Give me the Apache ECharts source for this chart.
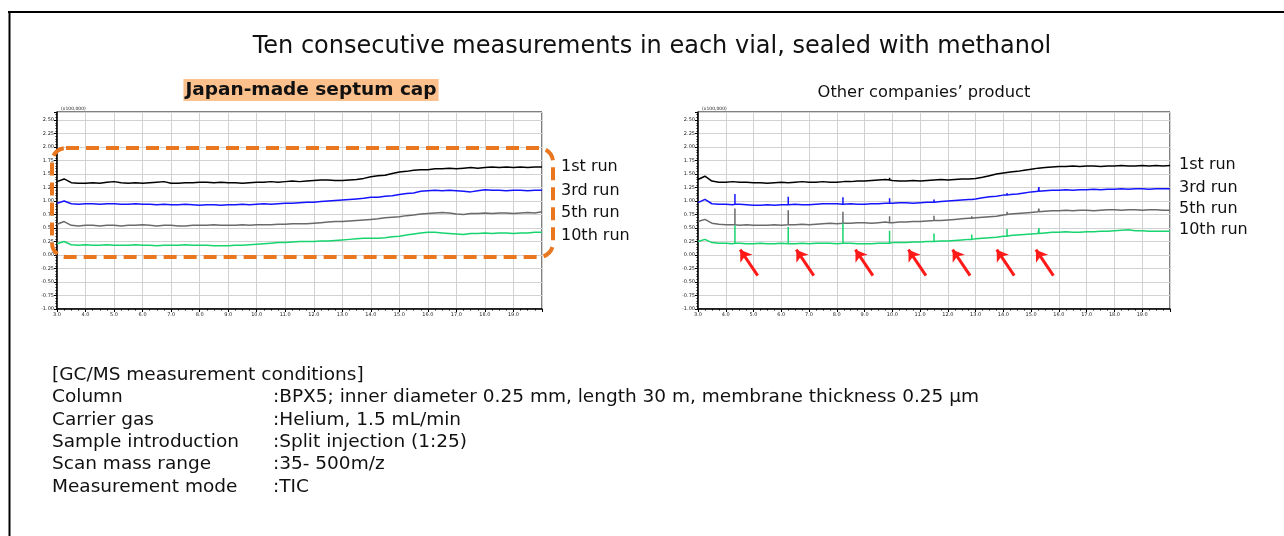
<!DOCTYPE html>
<html><head><meta charset="utf-8">
<script src="https://cdn.jsdelivr.net/npm/echarts@6/dist/echarts.min.js"></script>
<style>html,body{margin:0;padding:0;background:#fff}#c{width:1284px;height:536px}</style>
</head><body><div id="c"></div>
<script>
// retention time grid (min)
const times = [3.0,3.25,3.5,3.75,4.0,4.25,4.5,4.75,5.0,5.25,5.5,5.75,6.0,6.25,6.5,6.75,7.0,7.25,7.5,7.75,
  8.0,8.25,8.5,8.75,9.0,9.25,9.5,9.75,10.0,10.25,10.5,10.75,11.0,11.25,11.5,11.75,12.0,12.25,12.5,12.75,
  13.0,13.25,13.5,13.75,14.0,14.25,14.5,14.75,15.0,15.25,15.5,15.75,16.0,16.25,16.5,16.75,17.0,17.25,17.5,17.75,
  18.0,18.25,18.5,18.75,19.0,19.25,19.5,19.75,20.0];

// Japan-made septum cap (x100,000)
const leftRun1 = [1.36,1.41,1.34,1.33,1.33,1.34,1.33,1.35,1.36,1.34, 1.33,1.34,1.33,1.34,1.35,1.36,1.33,1.33,1.34,1.34,
  1.35,1.35,1.34,1.35,1.34,1.34,1.33,1.34,1.35,1.35, 1.36,1.35,1.36,1.37,1.36,1.37,1.38,1.39,1.39,1.38,
  1.38,1.39,1.40,1.42,1.45,1.47,1.48,1.51,1.54,1.55, 1.57,1.58,1.58,1.60,1.60,1.61,1.60,1.61,1.62,1.61,
  1.62,1.63,1.62,1.63,1.62,1.63,1.62,1.63,1.63];
const leftRun3 = [0.96,1.00,0.95,0.94,0.95,0.95,0.94,0.95,0.95,0.94, 0.94,0.95,0.94,0.94,0.93,0.94,0.93,0.93,0.94,0.93,
  0.92,0.93,0.93,0.92,0.93,0.93,0.94,0.93,0.94,0.95, 0.94,0.95,0.96,0.96,0.97,0.98,0.98,0.99,1.00,1.01,
  1.02,1.03,1.04,1.05,1.07,1.07,1.09,1.10,1.12,1.14, 1.15,1.18,1.19,1.20,1.19,1.20,1.19,1.18,1.17,1.19,
  1.21,1.20,1.20,1.19,1.20,1.20,1.19,1.20,1.20];
const leftRun5 = [0.57,0.62,0.55,0.54,0.55,0.55,0.54,0.55,0.55,0.54, 0.55,0.55,0.56,0.55,0.54,0.55,0.55,0.54,0.54,0.55,
  0.55,0.55,0.56,0.55,0.55,0.55,0.56,0.55,0.56,0.56, 0.56,0.57,0.57,0.58,0.58,0.58,0.59,0.60,0.61,0.62,
  0.62,0.63,0.64,0.65,0.66,0.67,0.69,0.70,0.71,0.73, 0.74,0.76,0.77,0.78,0.79,0.78,0.76,0.75,0.77,0.77,
  0.78,0.77,0.78,0.78,0.77,0.78,0.79,0.78,0.80];
const leftRun10 = [0.21,0.25,0.19,0.18,0.19,0.18,0.18,0.19,0.18,0.18, 0.18,0.19,0.18,0.18,0.17,0.18,0.18,0.18,0.19,0.18,
  0.18,0.18,0.17,0.17,0.17,0.18,0.18,0.19,0.20,0.21, 0.22,0.23,0.23,0.24,0.25,0.25,0.25,0.26,0.26,0.27,
  0.28,0.29,0.30,0.31,0.31,0.31,0.32,0.34,0.35,0.37, 0.39,0.41,0.42,0.42,0.41,0.40,0.39,0.38,0.40,0.40,
  0.41,0.40,0.41,0.41,0.40,0.41,0.41,0.42,0.42];

// Other companies' product (x100,000)
const rightRun1 = [1.40,1.46,1.37,1.35,1.35,1.36,1.35,1.35,1.34,1.34, 1.33,1.34,1.35,1.34,1.35,1.36,1.35,1.35,1.36,1.35,
  1.35,1.36,1.36,1.37,1.37,1.38,1.39,1.40,1.38,1.37, 1.37,1.38,1.37,1.38,1.39,1.40,1.39,1.40,1.41,1.41,
  1.42,1.44,1.47,1.50,1.52,1.54,1.55,1.57,1.59,1.61, 1.62,1.63,1.64,1.64,1.65,1.64,1.65,1.65,1.64,1.65,
  1.65,1.66,1.65,1.65,1.66,1.65,1.66,1.65,1.66];
const rightRun3 = [0.97,1.03,0.95,0.94,0.94,0.93,0.94,0.93,0.92,0.92, 0.93,0.92,0.93,0.93,0.94,0.93,0.93,0.94,0.95,0.95,
  0.95,0.94,0.95,0.94,0.94,0.95,0.95,0.96,0.96,0.97, 0.97,0.96,0.97,0.98,0.98,0.99,1.00,1.01,1.02,1.03,
  1.04,1.06,1.08,1.09,1.11,1.12,1.13,1.15,1.17,1.18, 1.19,1.20,1.20,1.21,1.20,1.21,1.21,1.22,1.21,1.22,
  1.22,1.23,1.22,1.23,1.23,1.22,1.23,1.23,1.23];
const rightRun5 = [0.62,0.66,0.59,0.57,0.56,0.56,0.55,0.56,0.55,0.55, 0.55,0.56,0.55,0.56,0.56,0.57,0.56,0.57,0.58,0.59,
  0.58,0.59,0.59,0.60,0.60,0.59,0.60,0.61,0.60,0.61, 0.61,0.62,0.62,0.63,0.64,0.64,0.65,0.66,0.67,0.68,
  0.69,0.70,0.71,0.72,0.74,0.76,0.77,0.78,0.79,0.80, 0.81,0.82,0.82,0.83,0.82,0.83,0.83,0.82,0.83,0.84,
  0.84,0.83,0.84,0.84,0.83,0.84,0.84,0.83,0.83];
const rightRun10 = [0.25,0.29,0.23,0.22,0.22,0.21,0.22,0.21,0.21,0.22, 0.21,0.21,0.22,0.21,0.21,0.22,0.21,0.22,0.22,0.22,
  0.21,0.22,0.22,0.21,0.21,0.21,0.22,0.22,0.23,0.23, 0.23,0.24,0.24,0.25,0.25,0.26,0.26,0.27,0.28,0.29,
  0.30,0.31,0.32,0.33,0.35,0.36,0.37,0.38,0.39,0.40, 0.41,0.42,0.42,0.43,0.42,0.42,0.43,0.43,0.44,0.44,
  0.45,0.46,0.47,0.45,0.45,0.44,0.44,0.44,0.44];

// ghost peaks in other companies' product
const spikeTimes = [4.33, 6.25, 8.22, 9.9, 11.5, 12.86, 14.13, 15.28];
const spikeBase1 = [null, null, null, 1.39, null, null, null, null];
const spikeTop1  = [null, null, null, 1.43, null, null, null, null];
const spikeBase3 = [0.94, 0.93, 0.94, 0.96, 0.98, 1.03, 1.11, 1.18];
const spikeTop3  = [1.13, 1.08, 1.07, 1.05, 1.03, 1.06, 1.15, 1.26];
const spikeBase5 = [0.56, 0.56, 0.59, 0.60, 0.64, 0.68, 0.75, 0.80];
const spikeTop5  = [0.86, 0.83, 0.80, 0.72, 0.73, 0.72, 0.80, 0.86];
const spikeBase10 = [0.22, 0.21, 0.22, 0.22, 0.25, 0.29, 0.35, 0.40];
const spikeTop10  = [0.55, 0.52, 0.59, 0.45, 0.40, 0.38, 0.48, 0.50];

// red arrows (data coords of right chart)
const arrowHeadT = [4.52, 6.54, 8.67, 10.58, 12.17, 13.76, 15.17];
const arrowTailT = [5.15, 7.17, 9.30, 11.21, 12.80, 14.39, 15.80];
const arrowHeadV = 0.10;
const arrowTailV = -0.38;

const runNames = ['1st run', '3rd run', '5th run', '10th run'];
const runColors = ['#000000', '#1414ff', '#6a6a6a', '#17d46e'];

const condLabels = ['[GC/MS measurement conditions]', 'Column', 'Carrier gas', 'Sample introduction', 'Scan mass range', 'Measurement mode'];
const condValues = ['', ':BPX5; inner diameter 0.25 mm, length 30 m, membrane thickness 0.25 µm', ':Helium, 1.5 mL/min', ':Split injection (1:25)', ':35- 500m/z', ':TIC'];

const FONT = 'DejaVu Sans';
const chart = echarts.init(document.getElementById('c'), null, {renderer: 'canvas'});

function gridData(arr) { return times.map((t, i) => [t, arr[i]]); }
function withSpikes(arr, base, top) {
  const pts = gridData(arr);
  spikeTimes.forEach((t, i) => {
    if (base[i] == null) return;
    pts.push([t, base[i]], [t, top[i]], [t, base[i]]);
  });
  return pts.map((p, k) => [p, k]).sort((a, b) => a[0][0] - b[0][0] || a[1] - b[1]).map(a => a[0]);
}

function xAxisCfg(idx) {
  return {
    type: 'value', gridIndex: idx, min: 3, max: 20, interval: 1,
    axisLine: {show: true, onZero: false, lineStyle: {color: '#000', width: 1.5}},
    axisTick: {show: true, length: 3, lineStyle: {color: '#000'}},
    minorTick: {show: true, splitNumber: 4, length: 1.5, lineStyle: {color: '#000'}},
    axisLabel: {fontSize: 5, color: '#222', margin: 3, fontFamily: FONT, showMaxLabel: false,
      formatter: v => v.toFixed(1)},
    splitLine: {show: true, lineStyle: {color: '#d2d2d2', width: 1}}
  };
}
function yAxisCfg(idx) {
  return {
    type: 'value', gridIndex: idx, min: -1, max: 2.65, interval: 0.25,
    name: '(x100,000)', nameLocation: 'end', nameGap: 1,
    nameTextStyle: {fontSize: 4.5, color: '#222', fontFamily: FONT, align: 'left', padding: [0, 0, 0, 4]},
    axisLine: {show: true, lineStyle: {color: '#000', width: 1.5}},
    axisTick: {show: true, length: 3, lineStyle: {color: '#000'}},
    minorTick: {show: true, splitNumber: 5, length: 1.5, lineStyle: {color: '#000'}},
    axisLabel: {fontSize: 5, color: '#222', margin: 3, fontFamily: FONT, showMaxLabel: false,
      formatter: v => v.toFixed(2)},
    splitLine: {show: true, lineStyle: {color: '#d2d2d2', width: 1}}
  };
}

const leftArrs = [leftRun1, leftRun3, leftRun5, leftRun10];
const rightArrs = [rightRun1, rightRun3, rightRun5, rightRun10];
const spikeBases = [spikeBase1, spikeBase3, spikeBase5, spikeBase10];
const spikeTops = [spikeTop1, spikeTop3, spikeTop5, spikeTop10];
const labelOffsets = [[0, 0], [0, 1], [0, 1], [0, 3]];

const series = [];
leftArrs.forEach((arr, i) => {
  series.push({
    type: 'line', name: runNames[i], xAxisIndex: 0, yAxisIndex: 0, data: gridData(arr),
    showSymbol: false, symbol: 'none', lineStyle: {color: runColors[i], width: 1.5},
    endLabel: {show: true, formatter: '{a}', distance: 19, offset: labelOffsets[i], color: '#111', fontSize: 16, fontFamily: FONT},
    silent: true, z: 3
  });
});
rightArrs.forEach((arr, i) => {
  series.push({
    type: 'line', name: runNames[i], xAxisIndex: 1, yAxisIndex: 1, data: withSpikes(arr, spikeBases[i], spikeTops[i]),
    showSymbol: false, symbol: 'none', lineStyle: {color: runColors[i], width: 1.5},
    endLabel: {show: true, formatter: '{a}', distance: 9, offset: [0, -1], color: '#111', fontSize: 16, fontFamily: FONT},
    silent: true, z: 3
  });
});
series.push({
  type: 'lines', coordinateSystem: 'cartesian2d', xAxisIndex: 1, yAxisIndex: 1,
  symbol: ['arrow', 'none'], symbolSize: [11, 13],
  lineStyle: {color: '#ff1a1a', width: 3, opacity: 1},
  data: arrowHeadT.map((t, i) => ({coords: [[t, arrowHeadV], [arrowTailT[i], arrowTailV]]})),
  silent: true, z: 4
});

const graphics = [
  {type: 'line', shape: {x1: 8, y1: 12, x2: 1284, y2: 12}, style: {stroke: '#000', lineWidth: 2}},
  {type: 'line', shape: {x1: 9.5, y1: 11, x2: 9.5, y2: 536}, style: {stroke: '#000', lineWidth: 2}}
];
condLabels.forEach((s, i) => {
  graphics.push({type: 'text', x: 52, y: 375 + i * 22.4,
    style: {text: s, fontSize: 18.5, fontFamily: FONT, fill: '#111', verticalAlign: 'middle'}});
  if (condValues[i]) graphics.push({type: 'text', x: 273, y: 375 + i * 22.4,
    style: {text: condValues[i], fontSize: 18.5, fontFamily: FONT, fill: '#111', verticalAlign: 'middle'}});
});

chart.setOption({
  animation: false,
  backgroundColor: '#ffffff',
  title: [
    {text: 'Ten consecutive measurements in each vial, sealed with methanol', left: 647, top: 30, textAlign: 'center',
      textStyle: {fontSize: 24, fontWeight: 'normal', color: '#111', fontFamily: FONT}},
    {text: 'Japan-made septum cap', left: 309, top: 79, textAlign: 'center', backgroundColor: '#fbc08c', padding: [0, 2],
      textStyle: {fontSize: 18.5, lineHeight: 22, fontWeight: 'bold', color: '#111', fontFamily: FONT}},
    {text: 'Other companies’ product', left: 924, top: 85, textAlign: 'center', padding: 0,
      textStyle: {fontSize: 16.3, fontWeight: 'normal', color: '#111', fontFamily: FONT}}
  ],
  grid: [
    {left: 57, top: 112, width: 485, height: 197, show: true, borderColor: '#000', borderWidth: 1, backgroundColor: 'transparent'},
    {left: 698, top: 112, width: 472, height: 197, show: true, borderColor: '#000', borderWidth: 1, backgroundColor: 'transparent'}
  ],
  xAxis: [xAxisCfg(0), xAxisCfg(1)],
  yAxis: [yAxisCfg(0), yAxisCfg(1)],
  series: series,
  graphic: graphics
});

// orange dashed highlight around the Japan-made traces
const p1 = chart.convertToPixel({gridIndex: 0}, [3, 2.0]);
const p2 = chart.convertToPixel({gridIndex: 0}, [20, 0]);
graphics.push({type: 'rect', z: 10,
  shape: {x: p1[0] - 5, y: p1[1] + 1, width: p2[0] - p1[0] + 16, height: p2[1] - p1[1] + 1, r: 14},
  style: {fill: 'none', stroke: '#e8771f', lineWidth: 4, lineDash: [13, 7]}});
chart.setOption({graphic: graphics});
</script></body></html>
